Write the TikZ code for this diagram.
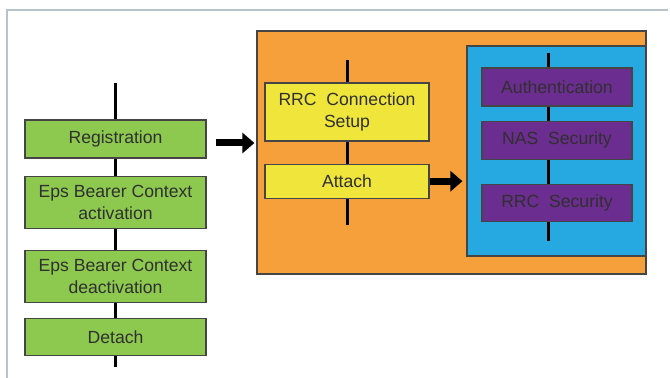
\documentclass[tikz,border=0pt]{standalone}
\usepackage{fontspec}
\setmainfont{Liberation Sans}
\usepackage{tikz}
\usetikzlibrary{arrows.meta, positioning}
\definecolor{ProcGreen}{HTML}{8DC84F}
\definecolor{ProcYellow}{HTML}{EFE53B}
\definecolor{ProcOrange}{HTML}{F5A03A}
\definecolor{ProcBlue}{HTML}{26A8E0}
\definecolor{ProcPurple}{HTML}{6B2D8F}
\definecolor{EdgeGray}{HTML}{454545}
\definecolor{FrameGray}{HTML}{B8C4CC}
\definecolor{TextGray}{HTML}{303030}
\tikzset{
  stage/.style={rectangle, draw=EdgeGray, line width=0.6pt, inner sep=1pt,
    align=center, text=TextGray, font=\fontsize{8.8}{11}\selectfont},
  mainstage/.style={stage, fill=ProcGreen, minimum width=90.5pt},
  attachstage/.style={stage, fill=ProcYellow, minimum width=82pt},
  secstage/.style={stage, fill=ProcPurple, minimum width=75pt},
  panel/.style={rectangle, draw=EdgeGray, line width=0.6pt, inner sep=0pt},
  spine/.style={line width=1.5pt, draw=black},
  bigarrow/.style={-{Triangle[length=6pt, width=10pt]}, line width=3.5pt, draw=black}
}

\begin{document}
\begin{tikzpicture}[x=0.5pt, y=-0.5pt]
  \useasboundingbox (0,0) rectangle (670,378);
  \draw[FrameGray, line width=1pt] (7,378) -- (7,10) -- (668,10);

  % attach procedure and security panels
  \node[panel, fill=ProcOrange, minimum width=194.5pt, minimum height=121.5pt]
    (attachpanel) at (451.5,152.5) {};
  \node[panel, fill=ProcBlue, minimum width=89.5pt, minimum height=105pt]
    (secpanel) at (556.5,151) {};

  % EMM procedures
  \node[mainstage, minimum height=19pt] (reg) at (115.5,139) {Registration};
  \node[mainstage, minimum height=26pt, below=8.5pt of reg] (act)
    {Eps Bearer Context\\activation};
  \node[mainstage, minimum height=26pt, below=10.5pt of act] (deact)
    {Eps Bearer Context\\deactivation};
  \node[mainstage, minimum height=18.5pt, below=7.5pt of deact] (detach) {Detach};
  \coordinate (mTop) at (115.5,83);
  \coordinate (mBot) at (115.5,367);

  % attach steps
  \node[attachstage, minimum height=29pt] (rrc) at (347,112) {RRC\ \ Connection\\Setup};
  \node[attachstage, minimum height=17pt, below=11pt of rrc] (attach) {Attach};
  \coordinate (aTop) at (347,60);
  \coordinate (aBot) at (347,225);

  % security steps
  \node[secstage, minimum height=19pt] (auth) at (557,87) {Authentication};
  \node[secstage, minimum height=19pt, below=7pt of auth] (nas) {NAS\ \ Security};
  \node[secstage, minimum height=18.5pt, below=12pt of nas] (rrcsec) {RRC\ \ Security};
  \coordinate (pTop) at (548,53);
  \coordinate (pBot) at (548,241);

  \draw[spine] (mTop) -- (reg);
  \draw[spine] (reg) -- (act);
  \draw[spine] (act) -- (deact);
  \draw[spine] (deact) -- (detach);
  \draw[spine] (detach) -- (mBot);

  \draw[spine] (aTop) -- (rrc);
  \draw[spine] (rrc) -- (attach);
  \draw[spine] (attach) -- (aBot);

  \draw[spine] (pTop) -- (auth.north -| pTop);
  \draw[spine] (auth.south -| pTop) -- (nas.north -| pTop);
  \draw[spine] (nas.south -| pTop) -- (rrcsec.north -| pTop);
  \draw[spine] (rrcsec.south -| pTop) -- (pBot);

  \draw[bigarrow] ([xshift=4.5pt, yshift=-2pt]reg.east) -- ([xshift=-1pt]attachpanel.west |- 0,143);
  \draw[bigarrow] (attach.east) -- ([xshift=-2pt]secpanel.west |- attach.east);
\end{tikzpicture}
\end{document}
